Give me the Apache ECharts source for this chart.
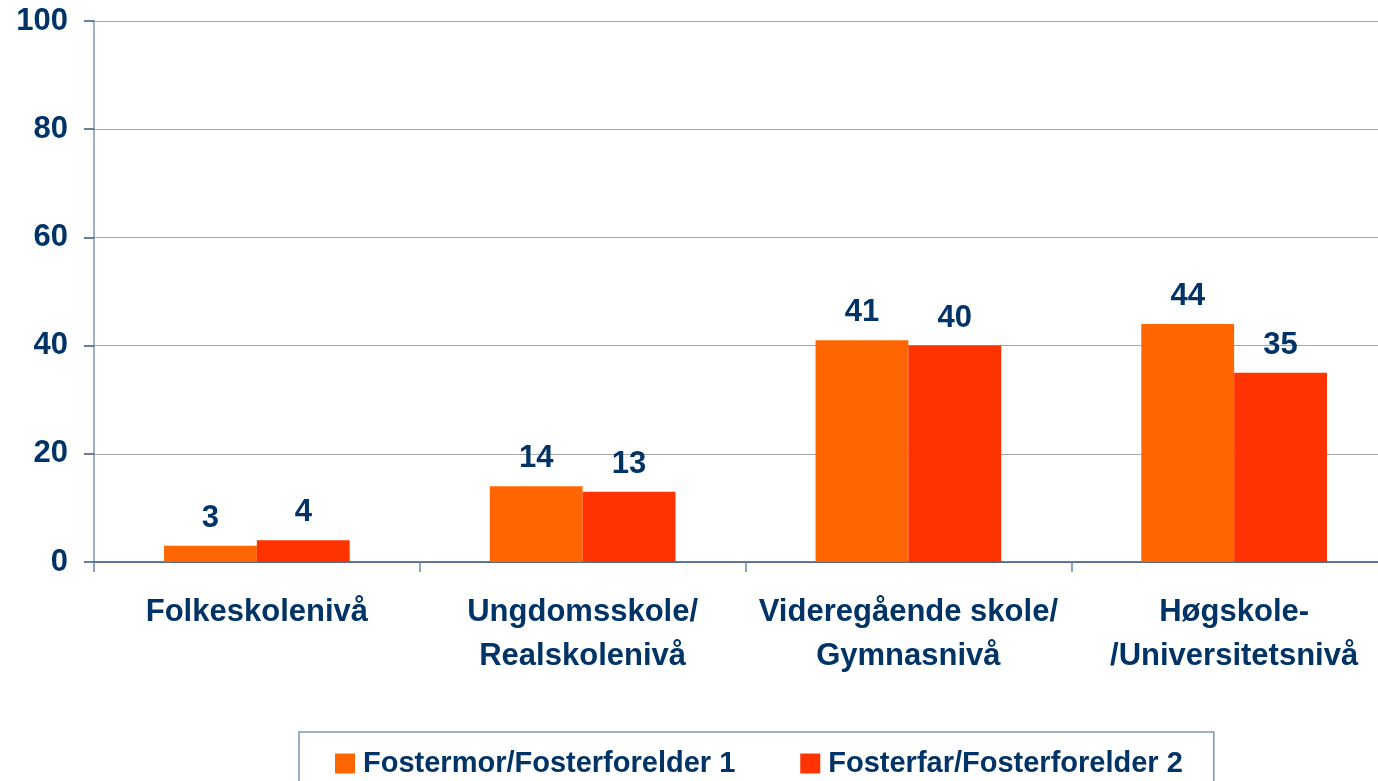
<!DOCTYPE html>
<html>
<head>
<meta charset="utf-8">
<script src="https://cdn.jsdelivr.net/npm/echarts@6/dist/echarts.min.js"></script>
<style>
html,body{margin:0;padding:0;background:#fff;overflow:hidden;width:1378px;height:781px;}
#c{width:1397px;height:781px;}
</style>
</head>
<body>
<div id="c"></div>
<script>
var categories = ['Folkeskolenivå', 'Ungdomsskole/\nRealskolenivå', 'Videregående skole/\nGymnasnivå', 'Høgskole-\n/Universitetsnivå'];
var seriesNames = ['Fostermor/Fosterforelder 1', 'Fosterfar/Fosterforelder 2'];
var fostermor = [3, 14, 41, 44];
var fosterfar = [4, 13, 40, 35];
var yTicks = [0, 20, 40, 60, 80, 100];

var FONT = '"Liberation Sans", Arial, sans-serif';
var NAVY = '#003366';

var chart = echarts.init(document.getElementById('c'), null, {renderer: 'canvas'});
chart.setOption({
  animation: false,
  backgroundColor: '#ffffff',
  textStyle: {fontFamily: FONT},
  grid: {left: 94, right: 0, top: 21, bottom: 219, containLabel: false},
  legend: {
    data: seriesNames,
    left: 299,
    top: 732,
    orient: 'horizontal',
    icon: 'rect',
    itemWidth: 20,
    itemHeight: 20,
    itemGap: 65,
    padding: [17, 31, 40, 36],
    borderColor: '#7F95B3',
    borderWidth: 1.5,
    textStyle: {fontFamily: FONT, fontSize: 29, fontWeight: 'bold', color: NAVY, lineHeight: 20, padding: [0, 0, 0, 3]}
  },
  xAxis: {
    type: 'category',
    data: categories,
    axisLine: {show: true, lineStyle: {color: '#36587F', width: 1.5}},
    axisTick: {show: true, alignWithLabel: false, length: 10, lineStyle: {color: '#6F86A6', width: 1.5}},
    axisLabel: {
      interval: 0,
      margin: 28,
      fontFamily: FONT,
      fontSize: 31,
      fontWeight: 'bold',
      color: NAVY,
      lineHeight: 44
    },
    splitLine: {show: false}
  },
  yAxis: {
    type: 'value',
    min: yTicks[0],
    max: yTicks[yTicks.length - 1],
    interval: 20,
    axisLine: {show: true, lineStyle: {color: '#7F95B3', width: 1.5}},
    axisTick: {show: true, length: 10, lineStyle: {color: '#36587F', width: 1.5}},
    axisLabel: {margin: 26, fontFamily: FONT, fontSize: 31, fontWeight: 'bold', color: NAVY},
    splitLine: {show: true, lineStyle: {color: '#A6A6A6', width: 1.2}}
  },
  series: [
    {
      name: seriesNames[0],
      type: 'bar',
      data: fostermor,
      barGap: '0%',
      barCategoryGap: '43%',
      itemStyle: {color: '#FF6600'},
      label: {show: true, position: 'top', distance: 12, fontFamily: FONT, fontSize: 31, fontWeight: 'bold', color: NAVY}
    },
    {
      name: seriesNames[1],
      type: 'bar',
      data: fosterfar,
      barGap: '0%',
      barCategoryGap: '43%',
      itemStyle: {color: '#FF3300'},
      label: {show: true, position: 'top', distance: 12, fontFamily: FONT, fontSize: 31, fontWeight: 'bold', color: NAVY}
    }
  ]
});
</script>
</body>
</html>
